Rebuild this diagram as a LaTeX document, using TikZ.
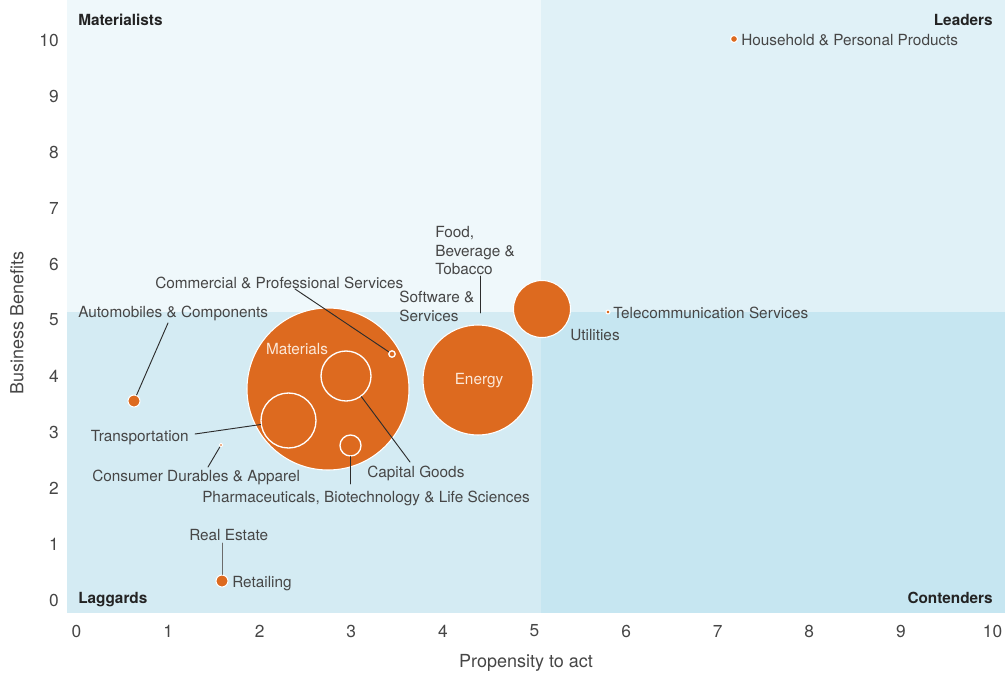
\documentclass[tikz,border=0pt]{standalone}
\usepackage{fontspec}
\setmainfont{TeX Gyre Heros}
\definecolor{bubble}{RGB}{221,106,31}
\definecolor{bubbletext}{RGB}{252,232,216}
\definecolor{bgTL}{RGB}{239,248,251}
\definecolor{bgTR}{RGB}{224,241,247}
\definecolor{bgBL}{RGB}{212,235,243}
\definecolor{bgBR}{RGB}{198,230,241}
\definecolor{labeltext}{RGB}{70,70,70}
\definecolor{quadtext}{RGB}{35,35,35}
\definecolor{leadcol}{RGB}{45,45,45}

\begin{document}
\begin{tikzpicture}[x=0.75pt, y=-0.75pt, line cap=round, line join=round]
  % ---- Styles ----
  \tikzset{
    quad/.style={font=\fontsize{11.5}{13}\selectfont\bfseries, text=quadtext, inner sep=0pt},
    lbl/.style={font=\fontsize{11.5}{14}\selectfont, text=labeltext, inner sep=0pt},
    ticklbl/.style={font=\fontsize{13}{15}\selectfont, text=labeltext, inner sep=0pt},
    axtitle/.style={font=\fontsize{13.5}{15}\selectfont, text=labeltext, inner sep=0pt},
    bubble/.style={circle, fill=bubble, draw=white, line width=0.8pt, inner sep=0pt, minimum size=#1*1.5pt},
    ring/.style={circle, draw=white, line width=1pt, inner sep=0pt, minimum size=#1*1.5pt},
    lead/.style={draw=leadcol, line width=0.7pt},
  }

  % ---- Geometry ----
  \def\xmid{541} % quadrant split, propensity
  \def\ymid{312} % quadrant split, benefits
  \useasboundingbox (0,0) rectangle (1005,674);

  % Quadrants
  \fill[bgTL] (67,0) rectangle (\xmid,\ymid);
  \fill[bgTR] (\xmid,0) rectangle (1005,\ymid);
  \fill[bgBL] (67,\ymid) rectangle (\xmid,613);
  \fill[bgBR] (\xmid,\ymid) rectangle (1005,613);

  \node[quad, anchor=base west] (materialists) at (78,26) {Materialists};
  \node[quad, anchor=base east] (leaders) at (993,26) {Leaders};
  \node[quad, anchor=base west] (laggards) at (78,603) {Laggards};
  \node[quad, anchor=base east] (contenders) at (993,603) {Contenders};

  % Axis ticks
  \foreach \i in {0,...,10} {
    \node[ticklbl] (xt\i) at ({76.5+91.6*\i},631) {\i};
    \node[ticklbl, anchor=east] (yt\i) at (59,{600-56*\i}) {\i};
  }
  \node[axtitle] (xtitle) at (526,663) {Propensity to act};
  \node[axtitle, rotate=90] (ytitle) at (17,323) {Business Benefits};

  % ---- Bubbles ----
  \node[bubble=81] (materials) at (328,389) {};
  \node[bubble=55] (energy) at (478,380) {};
  \node[bubble=28.5] (utilities) at (542,309) {};
  \node[bubble=6] (autos) at (134,401) {};
  \node[bubble=6] (retail) at (222,581) {};
  \node[bubble=3.5] (household) at (734,39) {};
  \node[bubble=2] (telecom) at (608,312) {};
  \node[bubble=1.8] (durables) at (221,445) {};
  \node[bubble=3.2, line width=1pt] (commercial) at (392,354) {};

  % Rings inside Materials
  \node[ring=25] (capital) at (346,376) {};
  \node[ring=27.5] (transport) at (288.5,420.5) {};
  \node[ring=10.5] (pharma) at (350.5,445.5) {};

  \node[lbl, text=bubbletext] (materialsL) at (297,349) {Materials};
  \node[lbl, text=bubbletext] (energyL) at (479,381) {Energy};

  % ---- Labels ----
  \node[lbl, anchor=west] (householdL) at (741,40) {Household \& Personal Products};
  \node[lbl, anchor=west] (telecomL) at (613,313) {Telecommunication Services};
  \node[lbl, anchor=west] (utilitiesL) at (570,335) {Utilities};
  \node[lbl, anchor=north west, align=left] (foodL) at (435,226) {Food,\\Beverage \&\\Tobacco};
  \node[lbl, anchor=north west, align=left] (softwareL) at (399,291) {Software \&\\Services};
  \node[lbl, anchor=west] (commercialL) at (155,283) {Commercial \& Professional Services};
  \node[lbl, anchor=west] (autosL) at (78,313) {Automobiles \& Components};
  \node[lbl, anchor=east] (transportL) at (189,438) {Transportation};
  \node[lbl, anchor=west] (durablesL) at (92,477) {Consumer Durables \& Apparel};
  \node[lbl, anchor=west] (capitalL) at (367,473) {Capital Goods};
  \node[lbl, anchor=west] (pharmaL) at (202,498) {Pharmaceuticals, Biotechnology \& Life Sciences};
  \node[lbl, anchor=west] (realestateL) at (189,535) {Real Estate};
  \node[lbl, anchor=west] (retailL) at (232,584) {Retailing};

  % ---- Leaders ----
  \coordinate (foodTop) at (480,276);
  \coordinate (foodEnd) at (480,313);
  \coordinate (commercialEnd) at (295,289);
  \coordinate (autosEnd) at (168,323);
  \coordinate (transportEnd) at (195,434);
  \coordinate (durablesEnd) at (208,467);
  \coordinate (capitalEnd) at (410,462);
  \coordinate (pharmaEnd) at (350.5,484);
  \coordinate (retailTop) at (222,543);

  \draw[lead] (foodTop) -- (foodEnd);
  \draw[lead] (commercialEnd) -- (commercial);
  \draw[lead] (autosEnd) -- (autos);
  \draw[lead] (transportEnd) -- (transport);
  \draw[lead] (durablesEnd) -- (durables);
  \draw[lead] (capital) -- (capitalEnd);
  \draw[lead] (pharma) -- (pharmaEnd);
  \draw[lead, draw=labeltext!80] (retailTop) -- (retail);

\end{tikzpicture}
\end{document}
